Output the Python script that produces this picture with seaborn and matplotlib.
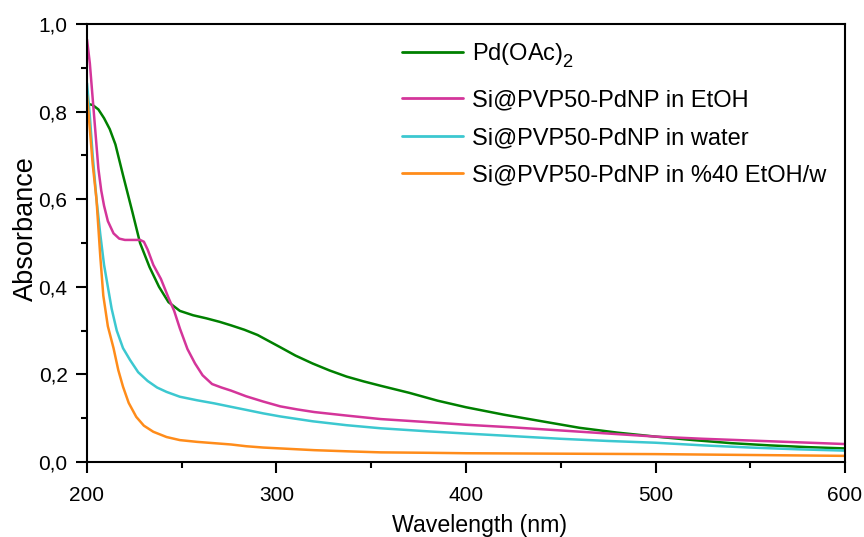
import matplotlib
matplotlib.use("Agg")
import matplotlib.pyplot as plt
import matplotlib._mathtext as _mt
from matplotlib.lines import Line2D
import seaborn as sns
import pandas as pd
from matplotlib.ticker import MultipleLocator, FixedLocator, FixedFormatter

# ---- data ----
pd_wl = [200, 203, 206, 209, 212, 215, 219, 224, 228, 233, 238, 243, 249, 256, 263, 270, 276,
         283, 290, 296, 302, 310, 319, 328, 337, 346, 355, 370, 385, 400, 420, 440, 460, 480,
         500, 520, 540, 560, 580, 600]
pd_abs = [0.818, 0.815, 0.805, 0.785, 0.76, 0.725, 0.655, 0.57, 0.50, 0.445, 0.40, 0.365, 0.345,
          0.335, 0.328, 0.32, 0.312, 0.302, 0.29, 0.276, 0.262, 0.243, 0.225, 0.209, 0.195, 0.184,
          0.174, 0.158, 0.14, 0.125, 0.108, 0.093, 0.078, 0.067, 0.058, 0.05, 0.043, 0.038, 0.034,
          0.031]

etoh_wl = [200, 201.5, 203, 204.5, 206, 207.5, 209, 211, 214, 217, 220, 224, 228, 230, 232, 235,
           239, 243, 246, 249, 253, 257, 261, 266, 271, 276, 284, 293, 302, 311, 320, 337, 355,
           380, 400, 425, 450, 475, 500, 525, 550, 575, 600]
etoh_abs = [0.965, 0.91, 0.83, 0.75, 0.67, 0.62, 0.585, 0.55, 0.522, 0.51, 0.507, 0.507, 0.507,
            0.503, 0.485, 0.45, 0.418, 0.375, 0.345, 0.305, 0.258, 0.225, 0.198, 0.178, 0.17,
            0.163, 0.15, 0.138, 0.127, 0.12, 0.114, 0.106, 0.098, 0.091, 0.085, 0.079, 0.072,
            0.065, 0.058, 0.053, 0.049, 0.045, 0.041]

water_wl = [200, 201.5, 203, 205, 207, 209, 211, 213, 215.7, 219, 222.7, 227, 232, 237, 242, 249,
            258, 267, 276, 284, 293, 302, 319, 337, 355, 380, 400, 425, 450, 475, 500, 525, 550,
            575, 600]
water_abs = [0.865, 0.79, 0.70, 0.60, 0.52, 0.45, 0.40, 0.35, 0.30, 0.26, 0.233, 0.205, 0.185,
             0.17, 0.16, 0.149, 0.141, 0.134, 0.126, 0.119, 0.111, 0.104, 0.093, 0.084, 0.077,
             0.07, 0.065, 0.059, 0.053, 0.048, 0.044, 0.038, 0.033, 0.029, 0.026]

mix_wl = [200, 201.5, 203, 205, 207, 208.6, 211, 214, 216.5, 219, 222, 226, 230, 235, 242, 249,
          258, 267, 276, 284, 293, 302, 320, 340, 355, 380, 400, 450, 500, 550, 600]
mix_abs = [0.838, 0.76, 0.68, 0.60, 0.47, 0.38, 0.31, 0.26, 0.21, 0.172, 0.135, 0.103, 0.083,
           0.069, 0.057, 0.05, 0.046, 0.043, 0.04, 0.036, 0.033, 0.031, 0.027, 0.024, 0.022,
           0.021, 0.02, 0.019, 0.018, 0.016, 0.014]

series_names = [r"Pd(OAc)$_2$", "Si@PVP50-PdNP in EtOH", "Si@PVP50-PdNP in water",
                "Si@PVP50-PdNP in %40 EtOH/w"]
series_colors = ["#008000", "#D4359A", "#3CC8D0", "#FF8C1A"]

x_ticks = [200, 300, 400, 500, 600]
y_ticks = [0.0, 0.2, 0.4, 0.6, 0.8, 1.0]
y_tick_labels = ["0,0", "0,2", "0,4", "0,6", "0,8", "1,0"]

# ---- build long table ----
frames = []
for name, wl, ab in zip(series_names,
                        [pd_wl, etoh_wl, water_wl, mix_wl],
                        [pd_abs, etoh_abs, water_abs, mix_abs]):
    frames.append(pd.DataFrame({"Wavelength": wl, "Absorbance": ab, "Sample": name}))
df = pd.concat(frames, ignore_index=True)

# larger, lower subscript, like the reference legend
_mt.SHRINK_FACTOR = 0.78
_mt.FontConstantsBase.sub1 = 0.6
_mt.FontConstantsBase.subdrop = 0.6

sns.set_theme(style="ticks")
plt.rcParams["font.family"] = ["Liberation Sans", "DejaVu Sans"]
plt.rcParams["mathtext.fontset"] = "custom"
plt.rcParams["mathtext.rm"] = "Liberation Sans"
plt.rcParams["mathtext.it"] = "Liberation Sans"
plt.rcParams["mathtext.default"] = "regular"
plt.rcParams["xtick.direction"] = "out"
plt.rcParams["ytick.direction"] = "out"
plt.rcParams["text.color"] = "black"
plt.rcParams["axes.labelcolor"] = "black"
plt.rcParams["xtick.color"] = "black"
plt.rcParams["ytick.color"] = "black"

fig = plt.figure(figsize=(8.64, 5.37), dpi=100)
ax = fig.add_axes([87 / 864, 1 - 462 / 537, (845 - 87) / 864, (462 - 24) / 537])

sns.lineplot(data=df, x="Wavelength", y="Absorbance", hue="Sample",
             hue_order=series_names, palette=series_colors, linewidth=1.8,
             sort=False, estimator=None, legend=False, ax=ax)

ax.set_xlim(200, 600)
ax.set_ylim(0, 1.0)
ax.xaxis.set_major_locator(FixedLocator(x_ticks))
ax.xaxis.set_minor_locator(MultipleLocator(50))
ax.yaxis.set_major_locator(FixedLocator(y_ticks))
ax.yaxis.set_major_formatter(FixedFormatter(y_tick_labels))
ax.yaxis.set_minor_locator(MultipleLocator(0.1))

ax.tick_params(axis="both", which="major", direction="out", length=8, width=1.5,
               labelsize=15, color="black", labelcolor="black")
ax.tick_params(axis="x", which="major", pad=9)
ax.tick_params(axis="y", which="major", pad=6)
ax.tick_params(axis="both", which="minor", direction="out", length=4.5, width=1.5,
               color="black")
ax.tick_params(top=False, right=False, which="both")
for s in ax.spines.values():
    s.set_visible(True)
    s.set_linewidth(1.5)
    s.set_color("black")

ax.set_xlabel("Wavelength (nm)", fontsize=16.7, color="black")
ax.set_ylabel("Absorbance", fontsize=19.5, color="black")
ax.xaxis.set_label_coords(0.518, -0.118)
ax.yaxis.set_label_coords(-0.064, 0.534)

handles = [Line2D([], [], color=c, linewidth=2.0) for c in series_colors]
common = dict(loc="upper left", bbox_transform=fig.transFigure, frameon=False, fontsize=17,
              handlelength=2.6, handletextpad=0.38, borderpad=0, borderaxespad=0,
              labelcolor="black")
leg1 = ax.legend(handles[:1], series_names[:1], bbox_to_anchor=(402 / 864, 1 - 41 / 537),
                 **common)
ax.add_artist(leg1)
leg2 = ax.legend(handles[1:], series_names[1:], bbox_to_anchor=(402 / 864, 1 - 89.5 / 537),
                 labelspacing=0.66, **common)

fig.savefig("out.png", dpi=100)
